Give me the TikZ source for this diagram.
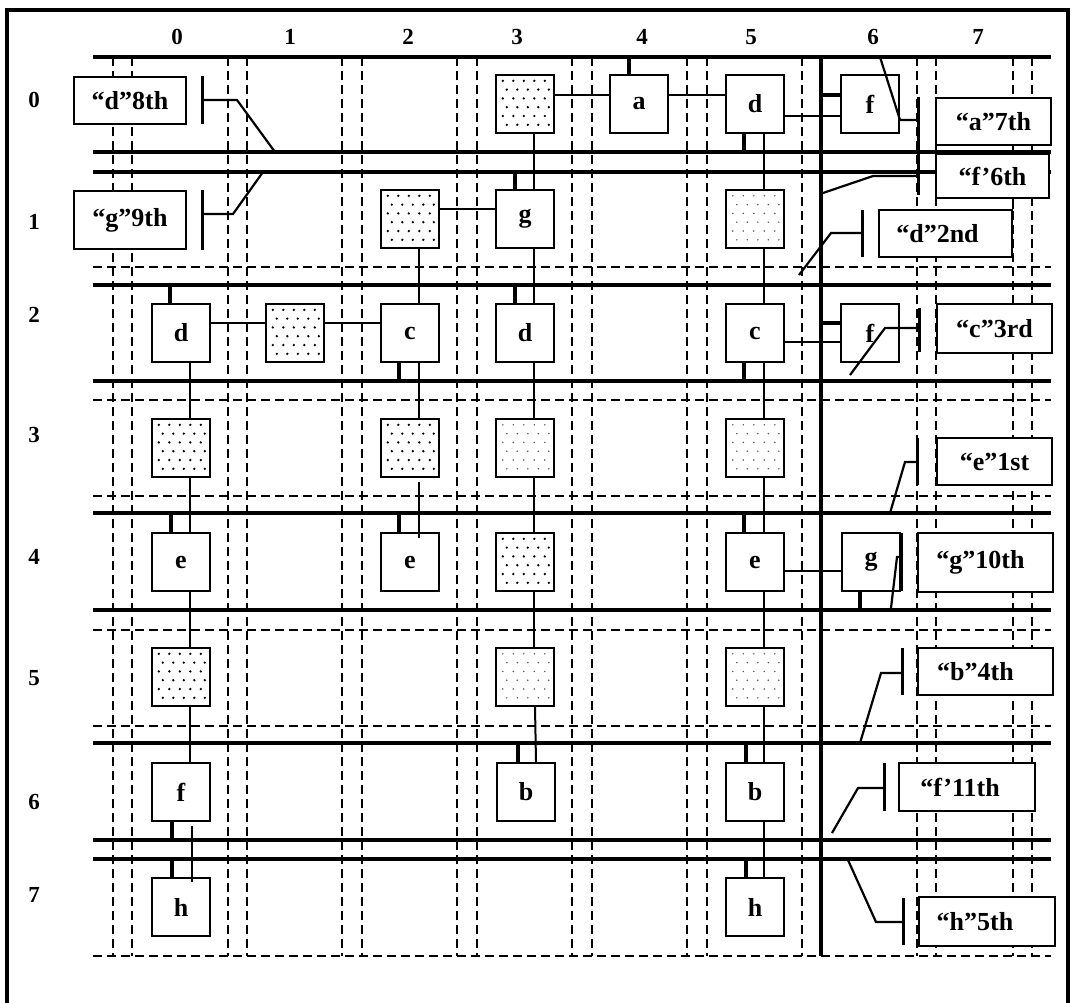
\documentclass[tikz,border=0pt]{standalone}
\usepackage{fontspec}
\setmainfont{Liberation Serif}
\usetikzlibrary{calc}
\newcommand\stipple[3]{%
  \foreach \j in {0,...,5}{%
    \foreach \i in {0,...,4}{%
      \pgfmathsetmacro\stx{8+\i*10.5+mod(\j,2)*4}%
      \pgfmathsetmacro\sty{7+\j*8.8}%
      \fill[#2] ($(#1.north west)+(\stx,\sty)$) circle (#3);
    }}}
\begin{document}
\begin{tikzpicture}[x=1pt,y=-1pt,
  cell/.style={draw, line width=2.4pt, fill=white, minimum width=58pt, minimum height=58pt, inner sep=0pt, font=\fontsize{26}{26}\selectfont\bfseries},
  lbl/.style={draw, line width=2.4pt, fill=white, inner sep=0pt, font=\fontsize{26}{26}\selectfont\bfseries},
  idx/.style={font=\fontsize{23}{23}\selectfont\bfseries, inner sep=0pt},
  bus/.style={line width=4pt},
  chan/.style={line width=2pt, dash pattern=on 9pt off 5pt},
  net/.style={line width=2pt},
  pin/.style={line width=4.5pt},
  bar/.style={line width=3pt},
  link/.style={line width=2.2pt},
  frame/.style={line width=3.5pt},
]
\useasboundingbox (0,0) rectangle (1073,1002);
% outer frame
\draw[frame] (7,1010) -- (7,10) -- (1068,10) -- (1068,1010);

% routing channels
\foreach \y in {57,152,172,285,381,513,610,743,840,859}
  \draw[bus] (93,\y) -- (1051,\y);
\foreach \y in {267,400,496,630,726,956}
  \draw[chan] (93,\y) -- (1051,\y);
\foreach \x in {113,132,228,247,342,362,457,477,572,592,687,707,802,917,936,1013,1032}
  \draw[chan] (\x,57) -- (\x,956);
\draw[bus] (821,57) -- (821,956);

% index labels
\node[idx] (c0) at (177,37) {0};
\node[idx] (c1) at (290,37) {1};
\node[idx] (c2) at (408,37) {2};
\node[idx] (c3) at (517,37) {3};
\node[idx] (c4) at (642,37) {4};
\node[idx] (c5) at (751,37) {5};
\node[idx] (c6) at (873,37) {6};
\node[idx] (c7) at (978,37) {7};
\node[idx] (w0) at (34,100) {0};
\node[idx] (w1) at (34,222) {1};
\node[idx] (w2) at (34,315) {2};
\node[idx] (w3) at (34,435) {3};
\node[idx] (w4) at (34,557) {4};
\node[idx] (w5) at (34,678) {5};
\node[idx] (w6) at (34,802) {6};
\node[idx] (w7) at (34,895) {7};

% cells
\node[cell] (r0c3) at (525,104) {};
\node[cell] (a) at (639,104) {a};
\node[cell] (d0) at (755,104) {d};
\node[cell] (f0) at (870,104) {f};
\node[cell] (r1c2) at (410,219) {};
\node[cell] (g1) at (525,219) {g};
\node[cell] (r1c5) at (755,219) {};
\node[cell] (d2a) at (181,333) {d};
\node[cell] (r2c1) at (295,333) {};
\node[cell] (c2a) at (410,333) {c};
\node[cell] (d2b) at (525,333) {d};
\node[cell] (c2b) at (755,333) {c};
\node[cell] (f2) at (870,333) {f};
\node[cell] (r3c0) at (181,448) {};
\node[cell] (r3c2) at (410,448) {};
\node[cell] (r3c3) at (525,448) {};
\node[cell] (r3c5) at (755,448) {};
\node[cell] (e4a) at (181,562) {e};
\node[cell] (e4b) at (410,562) {e};
\node[cell] (r4c3) at (525,562) {};
\node[cell] (e4c) at (755,562) {e};
\node[cell] (g4) at (871,562) {g};
\node[cell] (r5c0) at (181,677) {};
\node[cell] (r5c3) at (525,677) {};
\node[cell] (r5c5) at (755,677) {};
\node[cell] (f6) at (181,792) {f};
\node[cell] (b6a) at (526,792) {b};
\node[cell] (b6b) at (755,792) {b};
\node[cell] (h7a) at (181,907) {h};
\node[cell] (h7b) at (755,907) {h};

% stipples
\stipple{r0c3}{black}{1.3pt}
\stipple{r1c2}{black}{1.3pt}
\stipple{r2c1}{black}{1.3pt}
\stipple{r3c0}{black}{1.3pt}
\stipple{r3c2}{black}{1.3pt}
\stipple{r4c3}{black}{1.3pt}
\stipple{r5c0}{black}{1.3pt}
\stipple{r1c5}{black!65}{0.85pt}
\stipple{r3c3}{black!65}{0.85pt}
\stipple{r3c5}{black!65}{0.85pt}
\stipple{r5c3}{black!65}{0.85pt}
\stipple{r5c5}{black!65}{0.85pt}

% nets
\draw[net] ([yshift=9pt]r0c3.east) -- ([yshift=9pt]a.west);
\draw[net] ([yshift=9pt]a.east) -- ([yshift=9pt]d0.west);
\draw[net] ([yshift=-12pt]d0.east) -- ([yshift=-12pt]f0.west);
\draw[net] ([xshift=9pt]r0c3.south) -- ([xshift=9pt]g1.north);
\draw[net] ([xshift=9pt]d0.south) -- ([xshift=9pt]r1c5.north);
\draw[net] ([yshift=10pt]r1c2.east) -- ([yshift=10pt]g1.west);
\draw[net] ([xshift=9pt]r1c2.south) -- ([xshift=9pt]c2a.north);
\draw[net] ([xshift=9pt]g1.south) -- ([xshift=9pt]d2b.north);
\draw[net] ([xshift=9pt]r1c5.south) -- ([xshift=9pt]c2b.north);
\draw[net] ([yshift=10pt]d2a.east) -- ([yshift=10pt]r2c1.west);
\draw[net] ([yshift=10pt]r2c1.east) -- ([yshift=10pt]c2a.west);
\draw[net] ([xshift=9pt]d2a.south) -- ([xshift=9pt]r3c0.north);
\draw[net] ([xshift=9pt]c2a.south) -- ([xshift=9pt]r3c2.north);
\draw[net] ([xshift=9pt]d2b.south) -- ([xshift=9pt]r3c3.north);
\draw[net] ([xshift=9pt]c2b.south) -- ([xshift=9pt]r3c5.north);
\draw[net] ([yshift=-9pt]c2b.east) -- ([yshift=-9pt]f2.west);
\draw[net] ([xshift=9pt]r3c0.south) -- ([xshift=9pt]e4a.north);
\draw[net] ([xshift=9pt,yshift=-4pt]r3c2.south) -- ([xshift=9pt,yshift=-6pt]e4b.north);
\draw[net] ([xshift=9pt]r3c3.south) -- ([xshift=9pt]r4c3.north);
\draw[net] ([xshift=9pt]r3c5.south) -- ([xshift=9pt]e4c.north);
\draw[net] ([yshift=-9pt]e4c.east) -- ([yshift=-9pt]g4.west);
\draw[net] ([xshift=9pt]e4a.south) -- ([xshift=9pt]r5c0.north);
\draw[net] ([xshift=9pt]r4c3.south) -- ([xshift=9pt]r5c3.north);
\draw[net] ([xshift=9pt]e4c.south) -- ([xshift=9pt]r5c5.north);
\draw[net] ([xshift=9pt]r5c0.south) -- ([xshift=9pt]f6.north);
\draw[net] ([xshift=10pt]r5c3.south) -- ([xshift=10pt]b6a.north);
\draw[net] ([xshift=9pt]r5c5.south) -- ([xshift=9pt]b6b.north);
\draw[net] ([xshift=11pt,yshift=-4pt]f6.south) -- ([xshift=11pt,yshift=-5pt]h7a.north);
\draw[net] ([xshift=9pt]b6b.south) -- ([xshift=9pt]h7b.north);

% pins
\draw[pin] ([xshift=-10pt]a.north) -- ++(0,-18);
\draw[pin] ([xshift=-11pt]d0.south) -- ++(0,18);
\draw[pin] ([yshift=9pt]f0.west) -- ++(-20,0);
\draw[pin] ([xshift=-10pt]g1.north) -- ++(0,-18);
\draw[pin] ([xshift=-11pt]d2a.north) -- ++(0,-18);
\draw[pin] ([xshift=-11pt]c2a.south) -- ++(0,18);
\draw[pin] ([xshift=-10pt]d2b.north) -- ++(0,-18);
\draw[pin] ([xshift=-11pt]c2b.south) -- ++(0,18);
\draw[pin] ([yshift=10pt]f2.west) -- ++(-20,0);
\draw[pin] ([xshift=-10pt]e4a.north) -- ++(0,-19);
\draw[pin] ([xshift=-11pt]e4b.north) -- ++(0,-19);
\draw[pin] ([xshift=-11pt]e4c.north) -- ++(0,-19);
\draw[pin] ([xshift=-11pt]g4.south) -- ++(0,18);
\draw[pin] ([xshift=-8pt]b6a.north) -- ++(0,-19);
\draw[pin] ([xshift=-9pt]b6b.north) -- ++(0,-19);
\draw[pin] ([xshift=-9pt]f6.south) -- ++(0,18);
\draw[pin] ([xshift=-9pt]h7a.north) -- ++(0,-18);
\draw[pin] ([xshift=-9pt]h7b.north) -- ++(0,-18);

% order labels
\node[lbl, minimum width=112pt, minimum height=47pt] (L8) at (130,100.5) {“d”8th};
\node[lbl, minimum width=112pt, minimum height=58pt] (L9) at (130,220) {“g”9th};
\node[lbl, minimum width=115pt, minimum height=47pt] (L7) at (993.5,121.5) {“a”7th};
\node[lbl, minimum width=113pt, minimum height=44pt] (L6) at (992.5,176) {“f’6th};
\node[lbl, minimum width=133pt, minimum height=47pt] (L2) at (945.5,233.5) {“d”2nd\hspace*{16pt}};
\node[lbl, minimum width=115pt, minimum height=49pt] (L3) at (994.5,328.5) {“c”3rd};
\node[lbl, minimum width=115pt, minimum height=47pt] (L1) at (994.5,461.5) {“e”1st};
\node[lbl, minimum width=135pt, minimum height=59pt] (L10) at (985.5,562.5) {“g”10th\hspace*{10pt}};
\node[lbl, minimum width=135pt, minimum height=47pt] (L4) at (985.5,671.5) {“b”4th\hspace*{20pt}};
\node[lbl, minimum width=136pt, minimum height=48pt] (L11) at (967,787) {“f’11th\hspace*{14pt}};
\node[lbl, minimum width=136pt, minimum height=49pt] (L5) at (987,921.5) {“h”5th\hspace*{24pt}};
\draw[net] (L2.north east) -- (L2.north east |- L6.south);

% bars and leaders
\coordinate (p8) at (202,100);   \coordinate (k8) at (237,100);  \coordinate (e8) at (275,152);
\coordinate (p9) at (202,214);   \coordinate (k9) at (233,214);  \coordinate (e9) at (263,172);
\coordinate (p7) at (918,120);   \coordinate (k7) at (900,120);  \coordinate (e7) at (880,57);
\coordinate (p6) at (918,176);   \coordinate (k6) at (873,176);  \coordinate (e6) at (823,193);
\coordinate (p2) at (862,233);   \coordinate (k2) at (831,233);  \coordinate (e2) at (799,275);
\coordinate (p3) at (919,328);   \coordinate (k3) at (885,328);  \coordinate (e3) at (850,375);
\coordinate (p1) at (917,462);   \coordinate (k1) at (905,462);  \coordinate (e1) at (890,513);
\coordinate (p10) at (901,557);  \coordinate (k10) at (897,557); \coordinate (e10) at (891,608);
\coordinate (p4) at (902,673);   \coordinate (k4) at (881,673);  \coordinate (e4) at (860,743);
\coordinate (p11) at (884,788);  \coordinate (k11) at (858,788); \coordinate (e11) at (832,833);
\coordinate (p5) at (903,922);   \coordinate (k5) at (876,922);  \coordinate (e5) at (848,860);

\draw[bar] (202,76) -- (202,124);
\draw[bar] (202,190) -- (202,250);
\draw[bar] (918,97) -- (918,195);
\draw[bar] (862,210) -- (862,257);
\draw[bar] (919,308) -- (919,352);
\draw[bar] (917,438) -- (917,485);
\draw[bar] (901,533) -- (901,591);
\draw[bar] (902,648) -- (902,695);
\draw[bar] (884,763) -- (884,811);
\draw[bar] (903,898) -- (903,945);

\foreach \n in {8,9,7,6,2,3,1,10,4,11,5}
  \draw[link] (p\n) -- (k\n) -- (e\n);
\end{tikzpicture}
\end{document}
